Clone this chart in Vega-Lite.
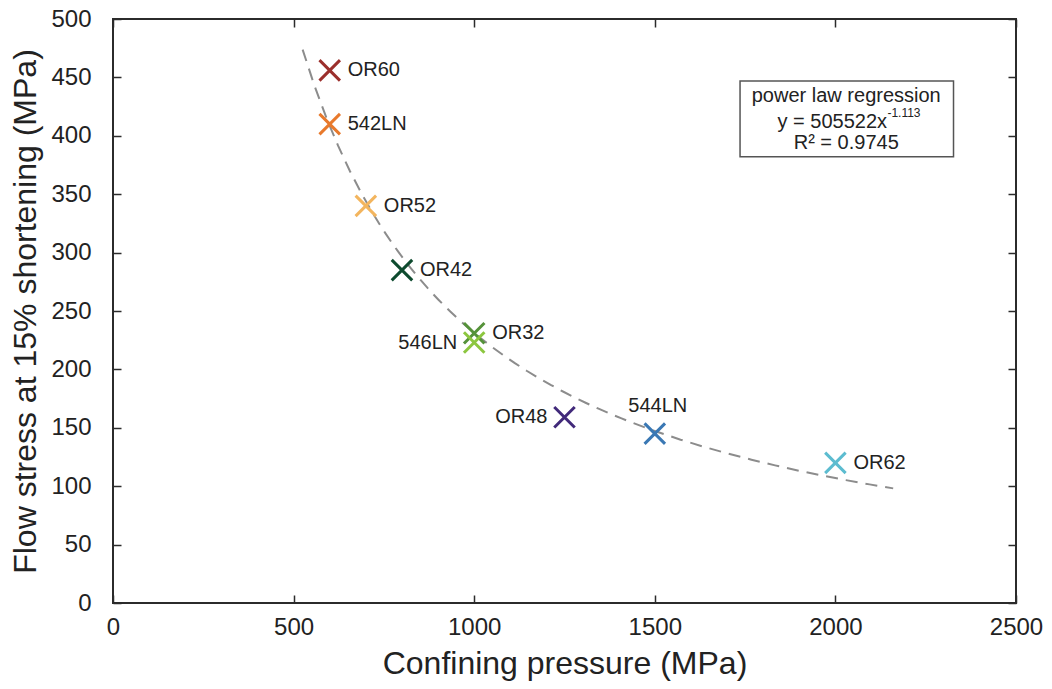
{
  "$schema": "https://vega.github.io/schema/vega-lite/v6.json",
  "width": 903,
  "height": 584,
  "autosize": {"type": "none"},
  "padding": {"left": 113, "top": 19, "right": 36, "bottom": 86},
  "background": "white",
  "config": {
    "font": "Liberation Sans",
    "view": {"stroke": "#2b2b2b", "strokeWidth": 2},
    "axis": {
      "domain": false,
      "grid": false,
      "tickColor": "#2b2b2b",
      "tickWidth": 1.5,
      "tickSize": 8,
      "offset": -8,
      "labelFlush": false,
      "labelOverlap": false,
      "labelFont": "Liberation Sans",
      "labelFontSize": 24,
      "labelColor": "#222222",
      "titleFont": "Liberation Sans",
      "titleFontSize": 32,
      "titleFontWeight": "normal",
      "titleColor": "#222222"
    }
  },
  "datasets": {
    "samples": [
      {"name": "OR60", "pressure": 600, "stress": 456},
      {"name": "542LN", "pressure": 600, "stress": 410},
      {"name": "OR52", "pressure": 700, "stress": 340},
      {"name": "OR42", "pressure": 800, "stress": 285},
      {"name": "OR32", "pressure": 1000, "stress": 231},
      {"name": "546LN", "pressure": 1000, "stress": 223},
      {"name": "OR48", "pressure": 1250, "stress": 159},
      {"name": "544LN", "pressure": 1500, "stress": 145},
      {"name": "OR62", "pressure": 2000, "stress": 120}
    ],
    "note": [{"label": "power law regression"}]
  },
  "resolve": {"axis": {"x": "independent", "y": "independent"}},
  "layer": [
    {
      "data": {"name": "samples"},
      "transform": [
        {"regression": "stress", "on": "pressure", "method": "pow", "extent": [525, 2160]}
      ],
      "mark": {"type": "line", "color": "#8c8c8c", "strokeWidth": 2, "strokeDash": [12, 8]},
      "encoding": {
        "x": {
          "field": "pressure",
          "type": "quantitative",
          "scale": {"domain": [0, 2500], "nice": false, "zero": false},
          "axis": {"title": "Confining pressure (MPa)", "format": "d", "values": [0, 500, 1000, 1500, 2000, 2500], "labelPadding": 12, "titlePadding": 9}
        },
        "y": {
          "field": "stress",
          "type": "quantitative",
          "scale": {"domain": [0, 500], "nice": false, "zero": false},
          "axis": {"title": "Flow stress at 15% shortening (MPa)", "format": "d", "values": [0, 50, 100, 150, 200, 250, 300, 350, 400, 450, 500], "labelPadding": 22, "titlePadding": 8}
        }
      }
    },
    {
      "data": {"name": "samples"},
      "mark": {"type": "point", "opacity": 0},
      "encoding": {
        "x": {"field": "pressure", "type": "quantitative", "axis": {"orient": "top", "labels": false, "title": null, "values": [0, 500, 1000, 1500, 2000, 2500]}},
        "y": {"field": "stress", "type": "quantitative", "axis": {"orient": "right", "labels": false, "title": null, "values": [0, 50, 100, 150, 200, 250, 300, 350, 400, 450, 500]}}
      }
    },
    {
      "data": {"name": "samples"},
      "mark": {"type": "point", "shape": "M-1,-1L1,1M-1,1L1,-1", "filled": false, "strokeWidth": 3, "size": 420, "opacity": 1},
      "encoding": {
        "x": {"field": "pressure", "type": "quantitative", "axis": null},
        "y": {"field": "stress", "type": "quantitative", "axis": null},
        "color": {
          "field": "name",
          "type": "nominal",
          "legend": null,
          "scale": {
            "domain": ["OR60", "542LN", "OR52", "OR42", "OR32", "546LN", "OR48", "544LN", "OR62"],
            "range": ["#9b2f2c", "#e8792c", "#f3b55e", "#0d4a2e", "#55923a", "#8cc63f", "#41297a", "#3a78b4", "#5cbcd0"]
          }
        }
      }
    },
    {
      "data": {"name": "samples"},
      "transform": [{"filter": {"field": "name", "oneOf": ["OR60", "542LN", "OR52", "OR42", "OR32", "OR62"]}}],
      "mark": {"type": "text", "align": "left", "baseline": "middle", "dx": 18, "fontSize": 20, "color": "#222222"},
      "encoding": {
        "x": {"field": "pressure", "type": "quantitative", "axis": null},
        "y": {"field": "stress", "type": "quantitative", "axis": null},
        "text": {"field": "name"}
      }
    },
    {
      "data": {"name": "samples"},
      "transform": [{"filter": {"field": "name", "oneOf": ["546LN", "OR48"]}}],
      "mark": {"type": "text", "align": "right", "baseline": "middle", "dx": -17, "fontSize": 20, "color": "#222222"},
      "encoding": {
        "x": {"field": "pressure", "type": "quantitative", "axis": null},
        "y": {"field": "stress", "type": "quantitative", "axis": null},
        "text": {"field": "name"}
      }
    },
    {
      "data": {"name": "samples"},
      "transform": [{"filter": {"field": "name", "oneOf": ["544LN"]}}],
      "mark": {"type": "text", "align": "center", "baseline": "middle", "dx": 3, "dy": -28, "fontSize": 20, "color": "#222222"},
      "encoding": {
        "x": {"field": "pressure", "type": "quantitative", "axis": null},
        "y": {"field": "stress", "type": "quantitative", "axis": null},
        "text": {"field": "name"}
      }
    },
    {
      "data": {"name": "note"},
      "mark": {"type": "rect", "fill": "white", "stroke": "#555555", "strokeWidth": 1.5},
      "encoding": {
        "x": {"datum": 1736, "type": "quantitative", "axis": null},
        "x2": {"datum": 2327},
        "y": {"datum": 447, "type": "quantitative", "axis": null},
        "y2": {"datum": 382}
      }
    },
    {
      "data": {"name": "note"},
      "mark": {"type": "text", "align": "center", "baseline": "middle", "fontSize": 20, "color": "#222222"},
      "encoding": {
        "x": {"datum": 2030, "type": "quantitative", "axis": null},
        "y": {"datum": 434, "type": "quantitative", "axis": null},
        "text": {"field": "label"}
      }
    },
    {
      "data": {"name": "note"},
      "mark": {"type": "text", "align": "right", "baseline": "middle", "fontSize": 20, "color": "#222222", "text": "y = 505522x"},
      "encoding": {
        "x": {"datum": 2143, "type": "quantitative", "axis": null},
        "y": {"datum": 412, "type": "quantitative", "axis": null}
      }
    },
    {
      "data": {"name": "note"},
      "mark": {"type": "text", "align": "left", "baseline": "middle", "fontSize": 12, "color": "#222222", "text": "-1.113"},
      "encoding": {
        "x": {"datum": 2144, "type": "quantitative", "axis": null},
        "y": {"datum": 419.5, "type": "quantitative", "axis": null}
      }
    },
    {
      "data": {"name": "note"},
      "mark": {"type": "text", "align": "center", "baseline": "middle", "fontSize": 20, "color": "#222222", "text": "R² = 0.9745"},
      "encoding": {
        "x": {"datum": 2030, "type": "quantitative", "axis": null},
        "y": {"datum": 394, "type": "quantitative", "axis": null}
      }
    }
  ]
}
